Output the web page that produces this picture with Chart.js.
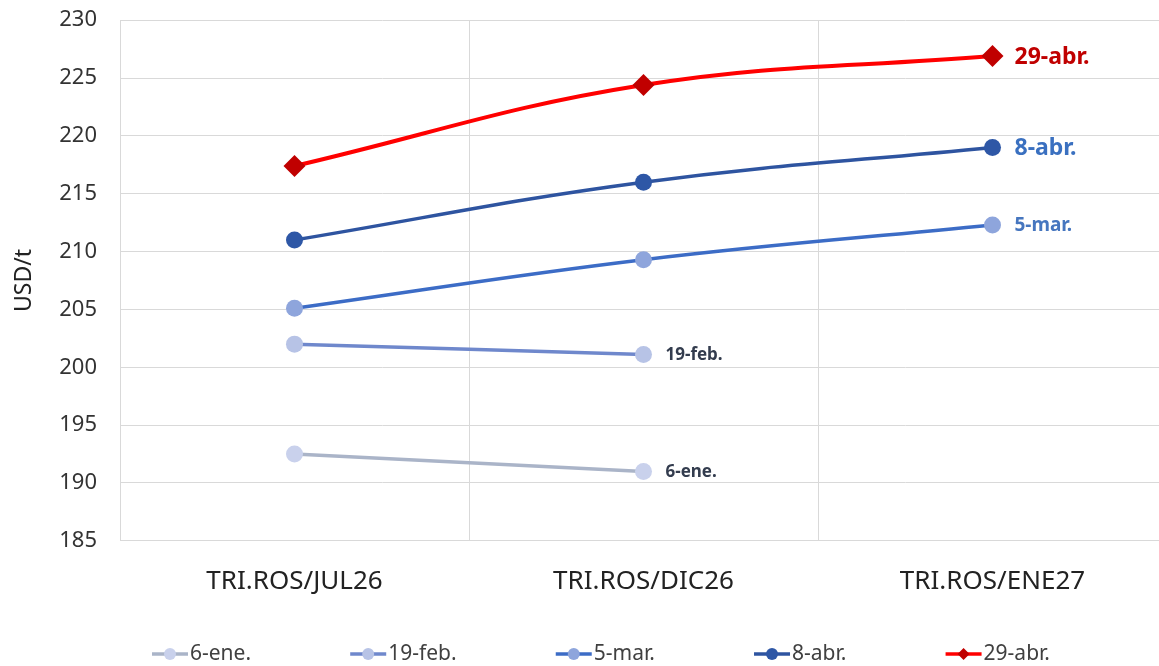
<!DOCTYPE html>
<html><head><meta charset="utf-8">
<script src="https://cdn.jsdelivr.net/npm/chart.js@4/dist/chart.umd.min.js"></script>
<style>html,body{margin:0;padding:0;background:#fff;overflow:hidden}#c{position:absolute;left:0;top:-16px}</style>
</head><body><canvas id="c" width="1178" height="698"></canvas>
<script>
const categories = ["TRI.ROS/JUL26", "TRI.ROS/DIC26", "TRI.ROS/ENE27"];
const seriesNames = ["6-ene.", "19-feb.", "5-mar.", "8-abr.", "29-abr."];
const ene6 = [192.5, 191.0, null];
const feb19 = [202.0, 201.1, null];
const mar5 = [205.1, 209.3, 212.3];
const abr8 = [211.0, 216.0, 219.0];
const abr29 = [217.4, 224.4, 226.9];
const yTicks = {min: 185, max: 230, step: 5};

const styles = [
  {line:'#aab4c8', point:'#c9d1ec', shape:'circle', lab:'#333c4e', size:17},
  {line:'#6f88cc', point:'#b7c3e6', shape:'circle', lab:'#333c4e', size:17},
  {line:'#3c6cc6', point:'#8ea5dc', shape:'circle', lab:'#4676bf', size:19},
  {line:'#2e54a0', point:'#2e57a6', shape:'circle', lab:'#3a70c0', size:23},
  {line:'#ff0000', point:'#c00000', shape:'rectRot', lab:'#c00000', size:23}
];
const values = [ene6, feb19, mar5, abr8, abr29];

const datasets = values.map((v,i)=>({
  label: seriesNames[i], data: v,
  borderColor: styles[i].line, backgroundColor: styles[i].point,
  pointBackgroundColor: styles[i].point, pointBorderColor: styles[i].point,
  pointStyle: styles[i].shape, pointRadius: styles[i].shape==='rectRot'?11:8.5,
  pointBorderWidth: 0, borderWidth: i===4?4:3.5, tension: 0.4, spanGaps: false
}));

const spacing = {
  id: 'spacing',
  beforeInit(chart){ chart.ctx.letterSpacing = '0.8px'; }
};

const endLabels = {
  id: 'endLabels',
  afterDatasetsDraw(chart){
    const ctx = chart.ctx;
    chart.data.datasets.forEach((ds,i)=>{
      const meta = chart.getDatasetMeta(i);
      let last = -1;
      ds.data.forEach((v,j)=>{ if (v!==null) last=j; });
      const pt = meta.data[last];
      ctx.save();
      ctx.font = 'bold ' + styles[i].size + 'px "Noto Sans"';
      ctx.fillStyle = styles[i].lab;
      ctx.textBaseline = 'middle';
      ctx.fillText(ds.label, pt.x + 22, pt.y + 1);
      ctx.restore();
    });
  }
};

const bottomLegend = {
  id: 'bottomLegend',
  afterDraw(chart){
    const ctx = chart.ctx;
    ctx.save();
    ctx.font = '21px "Noto Sans"';
    ctx.textBaseline = 'middle';
    const y = 670, startX = 152, endX = 1050, iconW = 36, gapT = 2;
    const widths = chart.data.datasets.map(ds => ctx.measureText(ds.label).width);
    const total = widths.reduce((a,b)=>a+b+iconW+gapT, 0);
    const gap = (endX - startX - total) / (widths.length - 1);
    let x = startX;
    chart.data.datasets.forEach((ds,i)=>{
      const s = styles[i];
      ctx.strokeStyle = s.line; ctx.lineWidth = 3.5;
      ctx.beginPath(); ctx.moveTo(x, y); ctx.lineTo(x+iconW, y); ctx.stroke();
      ctx.fillStyle = s.point;
      const cx = x + iconW/2;
      ctx.beginPath();
      if (s.shape === 'rectRot') { ctx.moveTo(cx, y-6); ctx.lineTo(cx+6, y); ctx.lineTo(cx, y+6); ctx.lineTo(cx-6, y); ctx.closePath(); }
      else ctx.arc(cx, y, 6, 0, Math.PI*2);
      ctx.fill();
      ctx.fillStyle = '#404040';
      ctx.fillText(ds.label, x + iconW + gapT, y);
      x += iconW + gapT + widths[i] + gap;
    });
    ctx.restore();
  }
};

new Chart(document.getElementById('c'), {
  type: 'line',
  data: { labels: categories, datasets },
  plugins: [spacing, endLabels, bottomLegend],
  options: {
    responsive: false, animation: false,
    layout: { padding: { top: 0, left: 0, right: 0, bottom: 60 } },
    plugins: { tooltip: { enabled: false }, legend: { display: false } },
    scales: {
      x: {
        offset: true,
        grid: { color: '#d9d9d9', lineWidth: 1, offset: true, drawTicks: false },
        border: { color: '#d9d9d9' },
        ticks: { color: '#222', font: { size: 26, family: '"Noto Sans"' }, padding: 25 }
      },
      y: {
        min: yTicks.min, max: yTicks.max,
        grid: { color: '#d9d9d9', lineWidth: 1, drawTicks: false },
        border: { color: '#d9d9d9' },
        ticks: { stepSize: yTicks.step, color: '#333', font: { size: 22, family: '"Noto Sans"' }, padding: 23 },
        title: { display: true, text: 'USD/t', color: '#222', font: { size: 23, family: '"Noto Sans"' }, padding: { top: 11, bottom: 0 } },
        afterFit(scale){ scale.width = 120; }
      }
    }
  }
});
</script></body></html>
